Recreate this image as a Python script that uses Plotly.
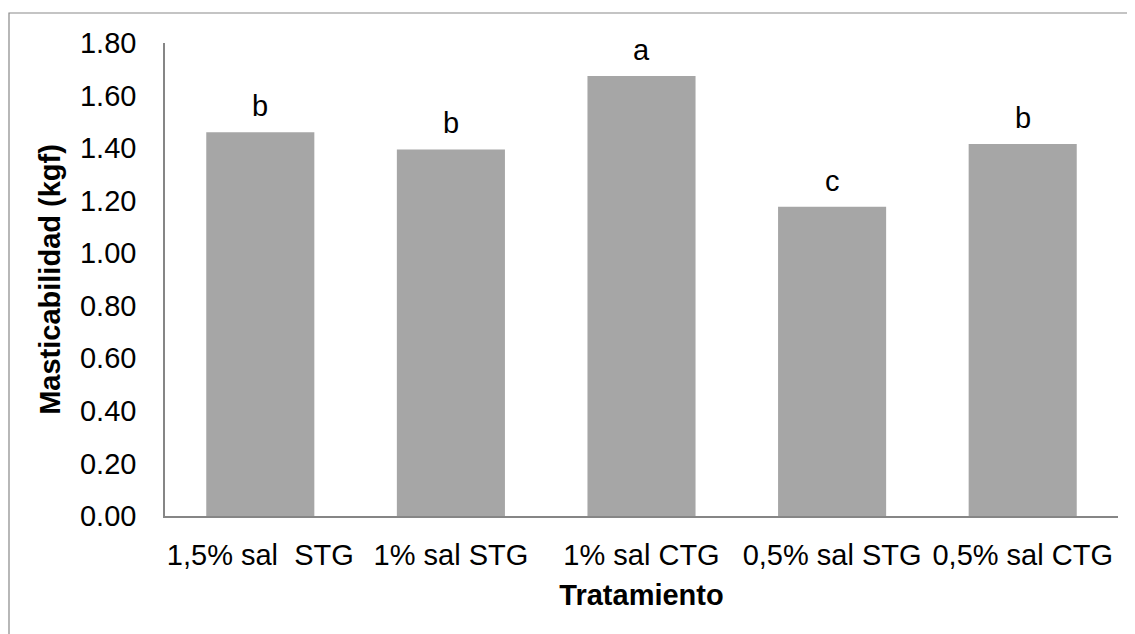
import plotly.graph_objects as go

categories = ["1,5% sal\u00a0 STG", "1% sal STG", "1% sal CTG", "0,5% sal STG", "0,5% sal CTG"]
values = [1.46, 1.395, 1.674, 1.177, 1.416]
letters = ["b", "b", "a", "c", "b"]
y_ticks = [0.0, 0.2, 0.4, 0.6, 0.8, 1.0, 1.2, 1.4, 1.6, 1.8]
y_tick_labels = ["0.00", "0.20", "0.40", "0.60", "0.80", "1.00", "1.20", "1.40", "1.60", "1.80"]

FONT = "Liberation Sans, Arial, sans-serif"
FS = 29

fig = go.Figure()
fig.add_trace(go.Bar(
    x=categories, y=values,
    marker=dict(color="#a6a6a6", line=dict(width=0)),
    hoverinfo="skip",
))

for c, v, t in zip(categories, values, letters):
    fig.add_annotation(x=c, y=v, text=t, showarrow=False, yanchor="bottom",
                       yshift=8, font=dict(family=FONT, size=FS, color="#000000"))

fig.add_shape(type="rect", xref="paper", yref="paper",
              x0=-0.1637, x1=1.2, y0=-0.6, y1=1.0634,
              line=dict(color="#898989", width=1.2), fillcolor="rgba(0,0,0,0)")

fig.update_layout(
    width=1127, height=626,
    margin=dict(l=157, r=17, t=35, b=118),
    paper_bgcolor="white", plot_bgcolor="white",
    bargap=0.433,
    showlegend=False,
    font=dict(family=FONT, size=FS, color="#000000"),
    xaxis=dict(
        showline=True, linecolor="#868686", linewidth=1.5,
        ticks="", showgrid=False, zeroline=False,
        tickfont=dict(family=FONT, size=FS),
        ticklabelstandoff=12,
        title=dict(text="<b>Tratamiento</b>", font=dict(family=FONT, size=FS), standoff=15),
    ),
    yaxis=dict(
        range=[0, 1.8], tickvals=y_ticks, ticktext=y_tick_labels,
        showline=True, linecolor="#868686", linewidth=1.5,
        ticks="", showgrid=False, zeroline=False,
        tickfont=dict(family=FONT, size=FS),
        ticklabelstandoff=21,
        title=dict(text="<b>Masticabilidad (kgf)</b>", font=dict(family=FONT, size=FS), standoff=11),
    ),
)

fig.write_html("out.html")
